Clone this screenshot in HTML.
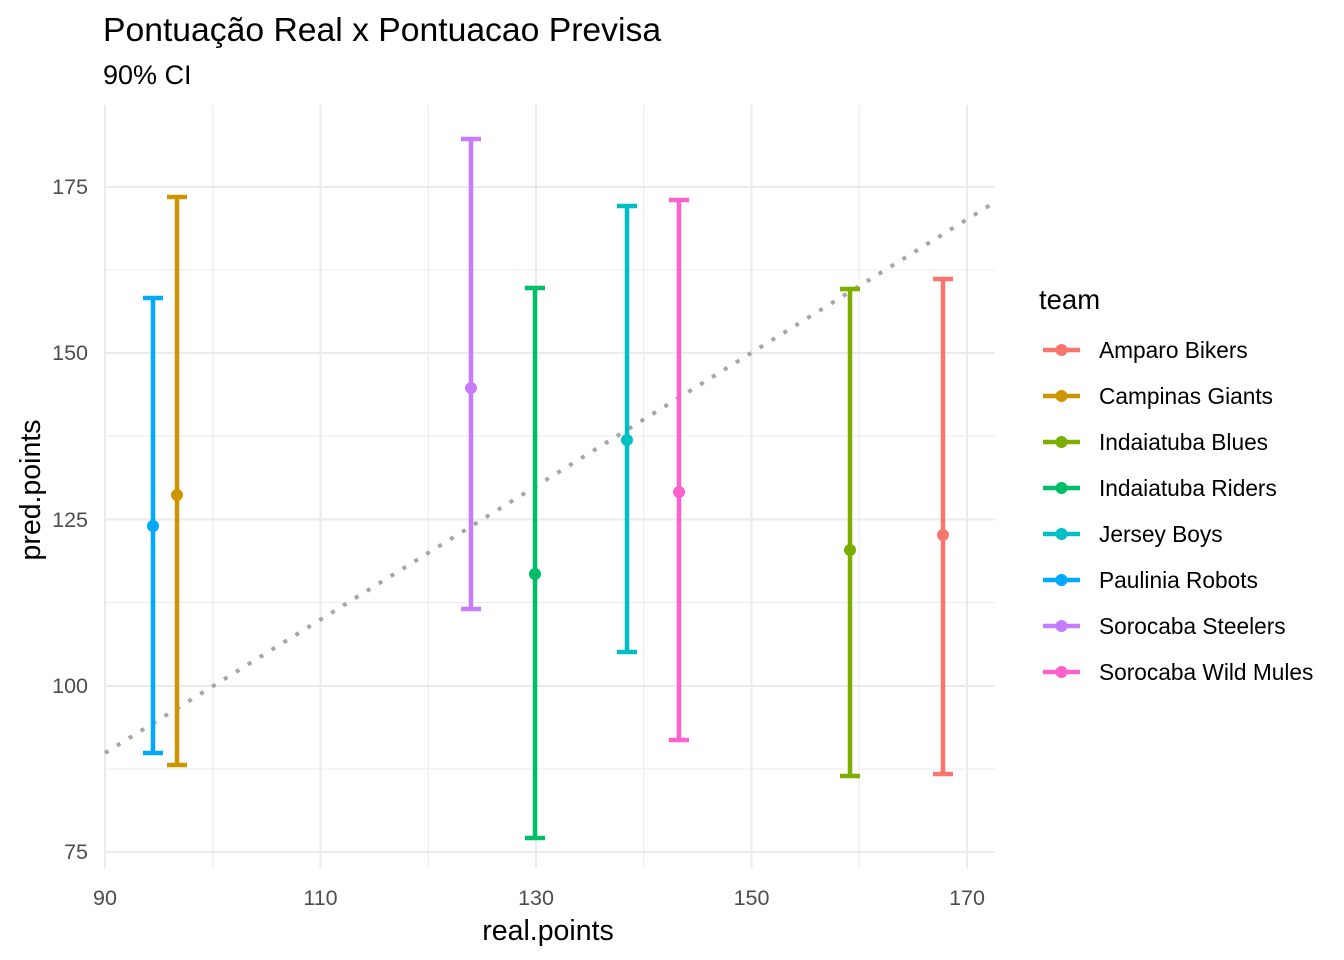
<!DOCTYPE html>
<html><head><meta charset="utf-8"><style>body{margin:0;background:#fff}svg{display:block;font-family:"Liberation Sans",sans-serif}</style></head><body>
<svg width="1344" height="960" xmlns="http://www.w3.org/2000/svg">
<rect width="1344" height="960" fill="#fff"/>
<g stroke="#ebebeb" stroke-width="1">
<line x1="212.75" y1="105" x2="212.75" y2="868"/><line x1="428.25" y1="105" x2="428.25" y2="868"/><line x1="643.75" y1="105" x2="643.75" y2="868"/><line x1="859.25" y1="105" x2="859.25" y2="868"/>
<line x1="105" y1="769" x2="995" y2="769"/><line x1="105" y1="602.5" x2="995" y2="602.5"/><line x1="105" y1="436" x2="995" y2="436"/><line x1="105" y1="270" x2="995" y2="270"/>
</g>
<g stroke="#ebebeb" stroke-width="2">
<line x1="105" y1="105" x2="105" y2="868"/><line x1="320.5" y1="105" x2="320.5" y2="868"/><line x1="536" y1="105" x2="536" y2="868"/><line x1="751.5" y1="105" x2="751.5" y2="868"/><line x1="967" y1="105" x2="967" y2="868"/>
<line x1="105" y1="852" x2="995" y2="852"/><line x1="105" y1="686" x2="995" y2="686"/><line x1="105" y1="519.5" x2="995" y2="519.5"/><line x1="105" y1="353" x2="995" y2="353"/><line x1="105" y1="187" x2="995" y2="187"/>
</g>
<line x1="105" y1="753" x2="995" y2="202" stroke="#a6a6a6" stroke-width="4" stroke-dasharray="4,10"/>
<g stroke-width="4.5" fill="none">
<path d="M153 298V753M143 298H163M143 753H163" stroke="#00A9FF"/>
<path d="M177 197V765M167 197H187M167 765H187" stroke="#CD9600"/>
<path d="M471 139V609M461 139H481M461 609H481" stroke="#C77CFF"/>
<path d="M535 288V838M525 288H545M525 838H545" stroke="#00BE67"/>
<path d="M627 206V652M617 206H637M617 652H637" stroke="#00BFC4"/>
<path d="M679 200V740M669 200H689M669 740H689" stroke="#FF61CC"/>
<path d="M850 289V776M840 289H860M840 776H860" stroke="#7CAE00"/>
<path d="M943 279V774M933 279H953M933 774H953" stroke="#F8766D"/>
</g>
<circle cx="153" cy="526" r="6" fill="#00A9FF"/><circle cx="177" cy="495" r="6" fill="#CD9600"/><circle cx="471" cy="388" r="6" fill="#C77CFF"/><circle cx="535" cy="574" r="6" fill="#00BE67"/><circle cx="627" cy="440" r="6" fill="#00BFC4"/><circle cx="679" cy="492" r="6" fill="#FF61CC"/><circle cx="850" cy="550" r="6" fill="#7CAE00"/><circle cx="943" cy="535" r="6" fill="#F8766D"/>
<g fill="#4d4d4d" font-size="21.5" text-anchor="end">
<text x="88" y="194">175</text><text x="88" y="360">150</text><text x="88" y="527">125</text><text x="88" y="693">100</text><text x="88" y="859">75</text>
</g>
<g fill="#4d4d4d" font-size="21.5" text-anchor="middle">
<text x="105" y="905">90</text><text x="320.5" y="905">110</text><text x="536" y="905">130</text><text x="751.5" y="905">150</text><text x="967" y="905">170</text>
</g>
<text x="548" y="940" font-size="28.5" text-anchor="middle">real.points</text>
<text transform="translate(40,490) rotate(-90)" font-size="28.5" text-anchor="middle">pred.points</text>
<text x="103" y="41" font-size="33.7">Pontuação Real x Pontuacao Previsa</text>
<text x="103" y="84" font-size="27">90% CI</text>
<text x="1039" y="309" font-size="27.5">team</text>
<g font-size="22.7">
<g transform="translate(0,350)"><line x1="1043" x2="1080" stroke="#F8766D" stroke-width="4.5"/><circle cx="1061.5" r="6" fill="#F8766D"/><text x="1099" y="8">Amparo Bikers</text></g>
<g transform="translate(0,396)"><line x1="1043" x2="1080" stroke="#CD9600" stroke-width="4.5"/><circle cx="1061.5" r="6" fill="#CD9600"/><text x="1099" y="8">Campinas Giants</text></g>
<g transform="translate(0,442)"><line x1="1043" x2="1080" stroke="#7CAE00" stroke-width="4.5"/><circle cx="1061.5" r="6" fill="#7CAE00"/><text x="1099" y="8">Indaiatuba Blues</text></g>
<g transform="translate(0,488)"><line x1="1043" x2="1080" stroke="#00BE67" stroke-width="4.5"/><circle cx="1061.5" r="6" fill="#00BE67"/><text x="1099" y="8">Indaiatuba Riders</text></g>
<g transform="translate(0,534)"><line x1="1043" x2="1080" stroke="#00BFC4" stroke-width="4.5"/><circle cx="1061.5" r="6" fill="#00BFC4"/><text x="1099" y="8">Jersey Boys</text></g>
<g transform="translate(0,580)"><line x1="1043" x2="1080" stroke="#00A9FF" stroke-width="4.5"/><circle cx="1061.5" r="6" fill="#00A9FF"/><text x="1099" y="8">Paulinia Robots</text></g>
<g transform="translate(0,626)"><line x1="1043" x2="1080" stroke="#C77CFF" stroke-width="4.5"/><circle cx="1061.5" r="6" fill="#C77CFF"/><text x="1099" y="8">Sorocaba Steelers</text></g>
<g transform="translate(0,672)"><line x1="1043" x2="1080" stroke="#FF61CC" stroke-width="4.5"/><circle cx="1061.5" r="6" fill="#FF61CC"/><text x="1099" y="8">Sorocaba Wild Mules</text></g>
</g>
</svg>
</body></html>
